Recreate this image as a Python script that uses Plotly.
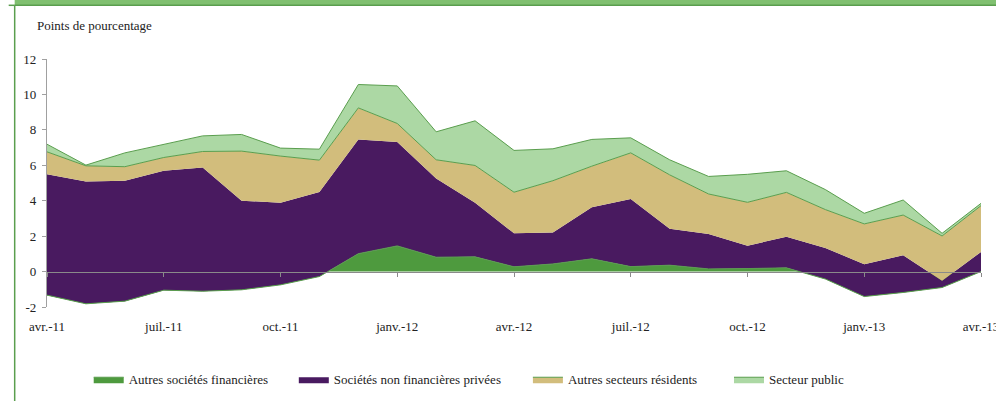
import plotly.graph_objects as go

# ---- data (percentage points) ----
months = list(range(25))  # avr.-11 ... avr.-13, monthly
tick_pos = [0, 3, 6, 9, 12, 15, 18, 21, 24]
tick_text = ["avr.-11", "juil.-11", "oct.-11", "janv.-12", "avr.-12",
             "juil.-12", "oct.-12", "janv.-13", "avr.-13"]
y_ticks = [-2, 0, 2, 4, 6, 8, 10, 12]
y_tick_text = ["-2", "0", "2", "4", "6", "8", "10", "12"]

autres_soc_fin = [-1.33, -1.82, -1.67, -1.05, -1.11, -1.03, -0.75, -0.28, 1.01, 1.45,
                  0.81, 0.83, 0.27, 0.43, 0.72, 0.28, 0.36, 0.15, 0.17, 0.21,
                  -0.42, -1.41, -1.18, -0.90, 0.00]
soc_non_fin = [6.82, 6.91, 6.80, 6.74, 6.99, 5.03, 4.64, 4.77, 6.45, 5.86,
               4.45, 3.06, 1.89, 1.77, 2.91, 3.82, 2.06, 1.97, 1.29, 1.76,
               1.75, 1.83, 2.10, 0.38, 1.11]
autres_sect_res = [1.27, 0.88, 0.79, 0.75, 0.90, 2.80, 2.63, 1.80, 1.78, 1.05,
                   1.05, 2.10, 2.32, 2.93, 2.32, 2.60, 3.04, 2.26, 2.45, 2.50,
                   2.17, 2.27, 2.27, 2.53, 2.61]
secteur_public = [0.43, 0.04, 0.78, 0.74, 0.88, 0.94, 0.45, 0.62, 1.32, 2.12,
                  1.58, 2.52, 2.36, 1.80, 1.51, 0.85, 0.85, 0.99, 1.58, 1.22,
                  1.13, 0.60, 0.85, 0.15, 0.13]

names = ["Autres sociétés financières", "Sociétés non financières privées",
         "Autres secteurs résidents", "Secteur public"]
series = [autres_soc_fin, soc_non_fin, autres_sect_res, secteur_public]
fills = ["#4e9a3e", "#491a60", "#d2bd7c", "#acd8a4"]
lines = [("#5a9e4e", 1), ("#491a60", 0), ("#5a9e4e", 1), ("#5a9e4e", 1)]
legend_ids = ["legend", "legend2", "legend3", "legend4"]

fig = go.Figure()
for nm, vals, fc, (lc, lw), lg in zip(names, series, fills, lines, legend_ids):
    fig.add_trace(go.Scatter(
        x=months, y=vals, name=nm, mode="lines", stackgroup="one",
        fillcolor=fc, line=dict(color=lc, width=lw), legend=lg,
        hoverinfo="skip"))

W, H = 996, 401
ml, mr, mt, mb = 47.3, 15.1, 58.7, 94.3
pw = W - ml - mr
ph = H - mt - mb

def px_x(p):
    return (p - ml) / pw

def px_y(p):
    return (H - mb - p) / ph

font = "Liberation Serif, DejaVu Serif, Times New Roman, serif"
tf = dict(family=font, size=13, color="#222222")
fig.update_layout(
    width=W, height=H,
    margin=dict(l=ml, r=mr, t=mt, b=mb, autoexpand=False),
    paper_bgcolor="white", plot_bgcolor="white",
    font=tf,
    xaxis=dict(range=[0, 24], tickvals=tick_pos, ticktext=tick_text,
               showline=False, ticks="", showgrid=False, zeroline=False,
               ticklabelstandoff=10, ticklabeloverflow="allow", automargin=False,
               tickfont=tf),
    xaxis2=dict(range=[0, 24], overlaying="x", anchor="free", position=2 / 14,
                tickvals=tick_pos, showticklabels=False, showline=True,
                linecolor="#8a8a8a", linewidth=1.3, ticks="outside", ticklen=4,
                tickcolor="#8a8a8a", showgrid=False, zeroline=False, layer="above traces"),
    yaxis=dict(range=[-2, 12], tickvals=y_ticks, ticktext=y_tick_text,
               showline=True, linecolor="#a0a0a0", linewidth=1.3, ticks="outside",
               ticklen=4, tickcolor="#a0a0a0", showgrid=False, zeroline=False,
               ticklabelstandoff=3, automargin=False, tickfont=tf),
    showlegend=True,
)
# invisible helper trace so the zero-level axis (xaxis2) is drawn
fig.add_trace(go.Scatter(x=[0, 24], y=[0, 0], xaxis="x2", yaxis="y", mode="lines",
                         line=dict(width=0), showlegend=False, hoverinfo="skip"))

leg_text_start = [129, 334, 568, 769]
for lg, ts in zip(legend_ids, leg_text_start):
    fig.update_layout({lg: dict(x=px_x(ts - 40), xanchor="left", y=px_y(379), yanchor="middle",
                                orientation="h", bgcolor="rgba(0,0,0,0)", font=tf)})

fig.add_annotation(text="Points de pourcentage", xref="paper", yref="paper",
                   x=px_x(35), y=px_y(25), xanchor="left", yanchor="middle",
                   showarrow=False, font=tf)

# frame decoration (top green band and left border)
fig.add_shape(type="rect", xref="paper", yref="paper", x0=px_x(15), x1=px_x(1000),
              y0=px_y(5), y1=px_y(-2), fillcolor="#80c070", line=dict(width=0), layer="above")
fig.add_shape(type="line", xref="paper", yref="paper", x0=px_x(15), x1=px_x(1000),
              y0=px_y(5), y1=px_y(5), line=dict(color="#5a9e4e", width=1.5))
fig.add_shape(type="line", xref="paper", yref="paper", x0=px_x(15), x1=px_x(15),
              y0=px_y(5), y1=px_y(405), line=dict(color="#5a9e4e", width=1.5))
fig.add_shape(type="line", xref="paper", yref="paper", x0=px_x(9), x1=px_x(15),
              y0=px_y(5), y1=px_y(5), line=dict(color="#5a9e4e", width=1.5))

fig.write_html("out.html", config={"displayModeBar": False},
               post_script="document.body.style.margin='0';document.body.style.overflow='hidden';")
